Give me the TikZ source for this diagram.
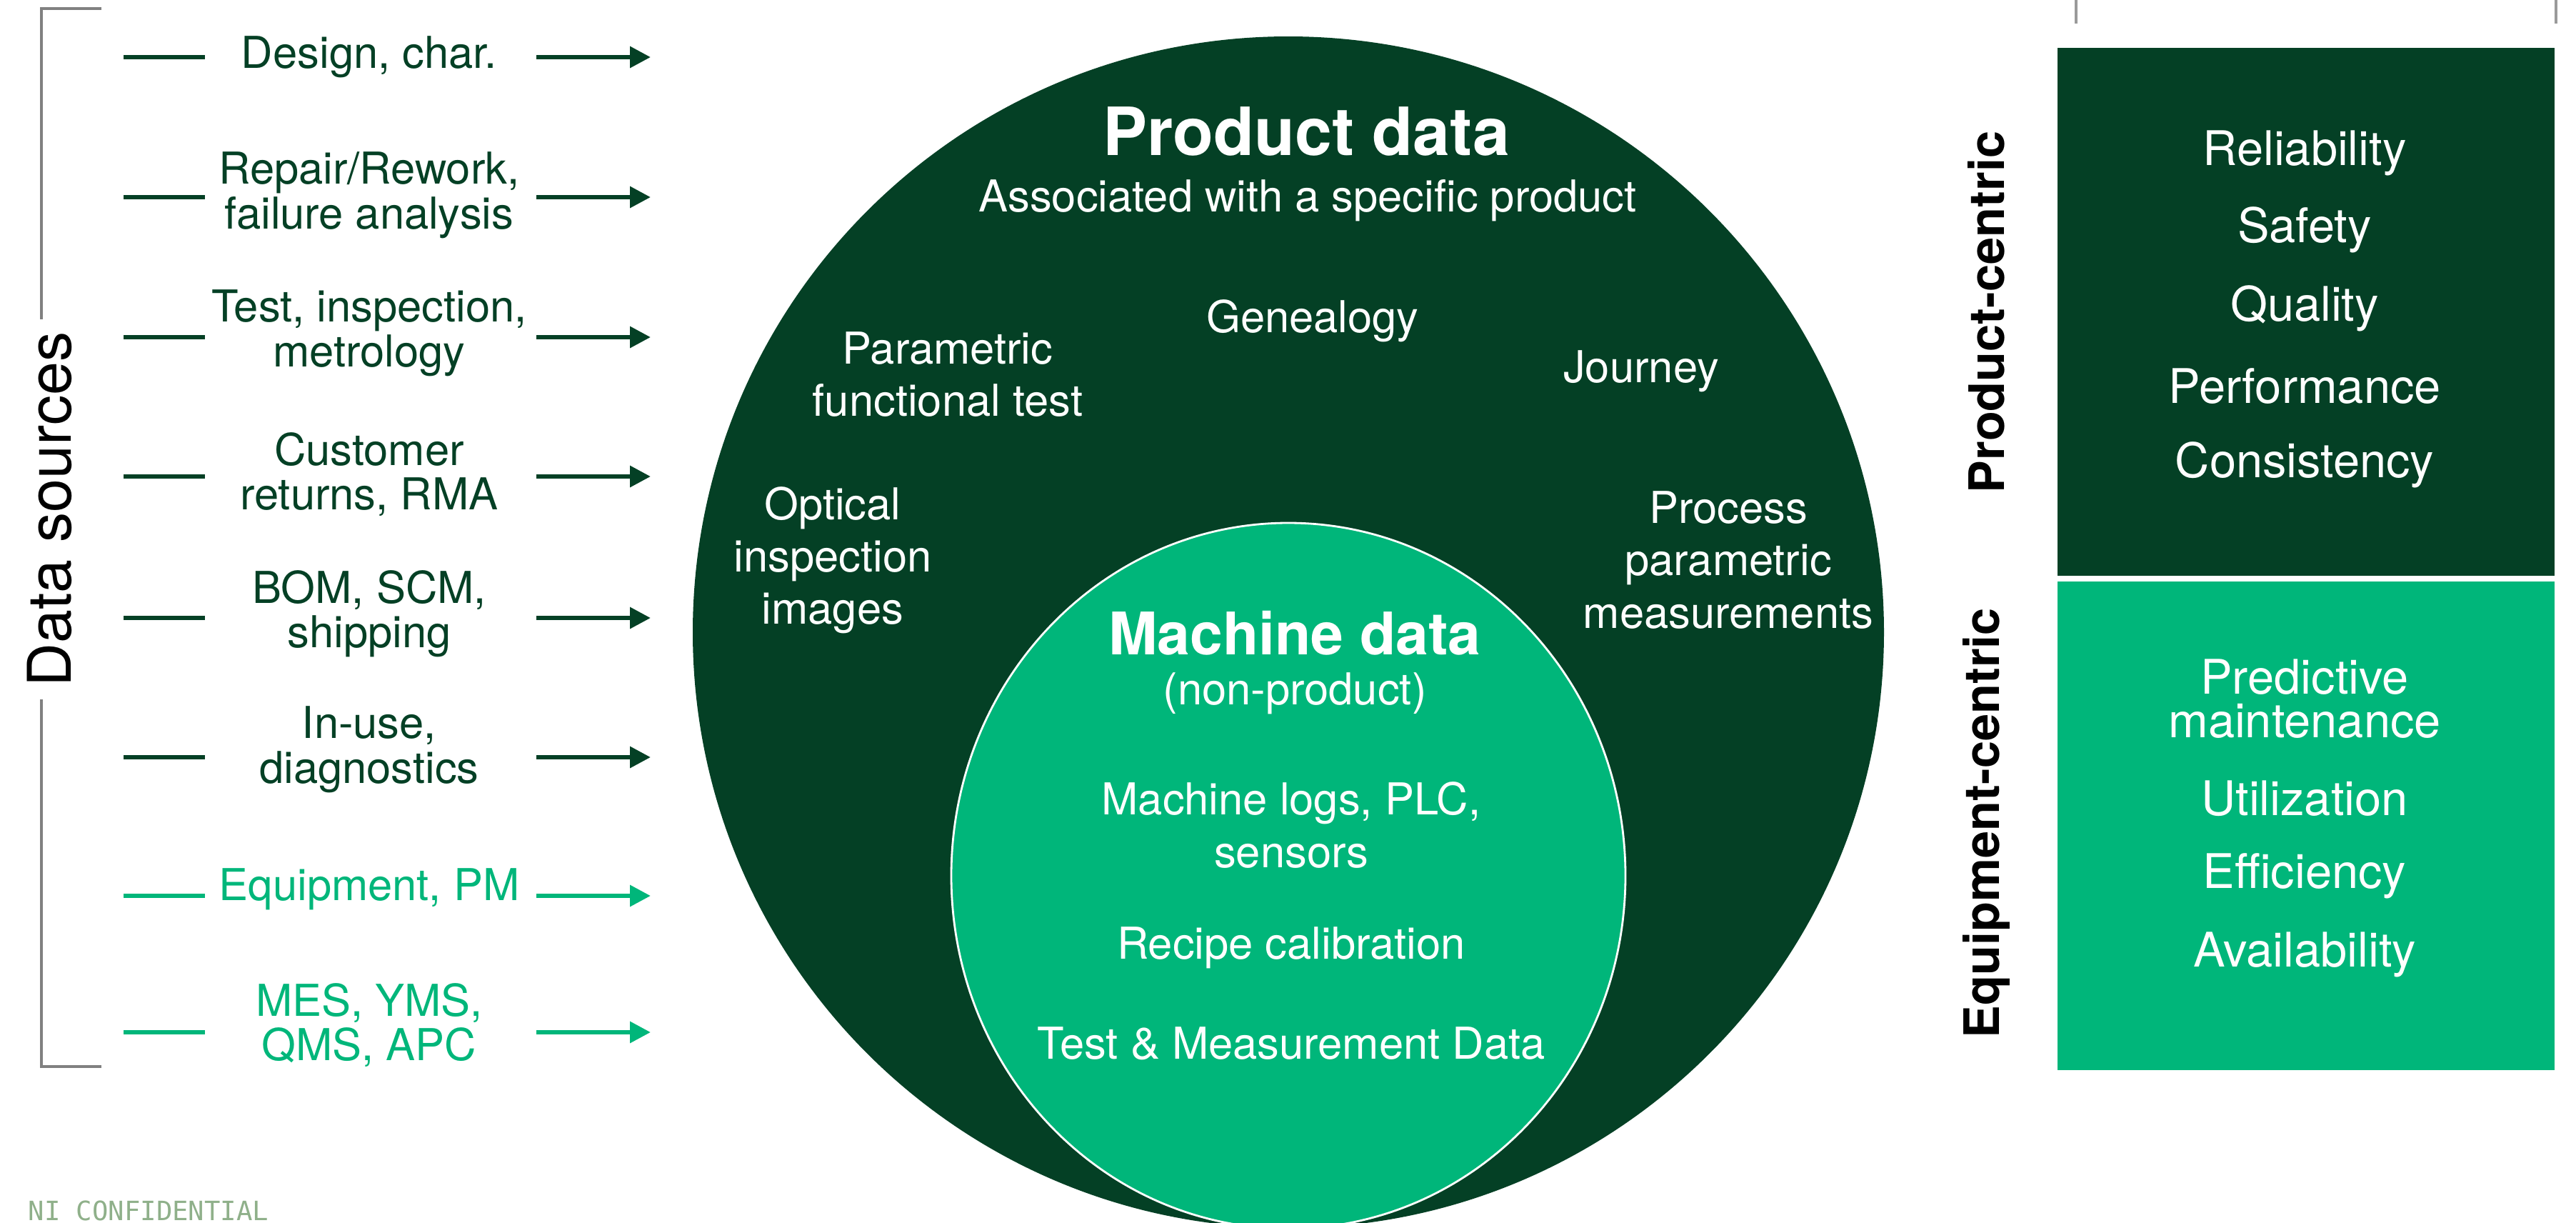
\documentclass[tikz,border=0pt]{standalone}
\usepackage{fontspec}
\setmainfont{TeX Gyre Heros}
\setmonofont{DejaVu Sans Mono}
\usetikzlibrary{arrows.meta}

\definecolor{ngreen}{RGB}{4,64,37}
\definecolor{lgreen}{RGB}{0,182,122}
\definecolor{sage}{RGB}{143,176,138}
\definecolor{brgray}{RGB}{128,128,128}

\tikzset{
	srcdark/.style={text=ngreen, align=center, inner sep=0pt, font=\fontsize{17.5}{17.8}\selectfont},
	srclight/.style={srcdark, text=lgreen},
	darkline/.style={draw=ngreen, line width=1.8pt},
	lightline/.style={draw=lgreen, line width=1.8pt},
	darkarrow/.style={darkline, -{Triangle[length=0.29cm,width=0.29cm]}},
	lightarrow/.style={lightline, -{Triangle[length=0.29cm,width=0.29cm]}},
	intext/.style={text=white, align=center, inner sep=0pt, font=\fontsize{17.5}{20.8}\selectfont},
	boxtext/.style={text=white, align=center, inner sep=0pt, font=\fontsize{19}{17.5}\selectfont},
	sidelabel/.style={rotate=90, inner sep=0pt, font=\fontsize{19.5}{20}\selectfont\bfseries}
}

\begin{document}
\begin{tikzpicture}[>=stealth]
			\useasboundingbox (0,0) rectangle (36.07,-17.11);

			% Скобка слева
			\draw[brgray, line width=1.3pt] (1.42,-0.12) -- (0.58,-0.12) -- (0.58,-14.93) -- (1.42,-14.93);
			\node[rotate=90, fill=white, inner sep=0.18cm, font=\fontsize{24}{24}\selectfont] (srcs) at (0.69,-7.13) {Data sources};

			% Источники данных
			\node[srcdark] (s1) at (5.17,-0.80) {Design, char.};
			\coordinate (s1a) at (1.73,-0.80); \coordinate (s1b) at (2.87,-0.80);
			\coordinate (s1c) at (7.51,-0.80); \coordinate (s1d) at (9.11,-0.80);
			\draw[darkline] (s1a) -- (s1b);
			\draw[darkarrow] (s1c) -- (s1d);

			\node[srcdark] (s2) at (5.17,-2.73) {Repair/Rework,\\failure analysis};
			\coordinate (s2a) at (1.73,-2.76); \coordinate (s2b) at (2.87,-2.76);
			\coordinate (s2c) at (7.51,-2.76); \coordinate (s2d) at (9.11,-2.76);
			\draw[darkline] (s2a) -- (s2b);
			\draw[darkarrow] (s2c) -- (s2d);

			\node[srcdark] (s3) at (5.17,-4.66) {Test, inspection,\\metrology};
			\coordinate (s3a) at (1.73,-4.72); \coordinate (s3b) at (2.87,-4.72);
			\coordinate (s3c) at (7.51,-4.72); \coordinate (s3d) at (9.11,-4.72);
			\draw[darkline] (s3a) -- (s3b);
			\draw[darkarrow] (s3c) -- (s3d);

			\node[srcdark] (s4) at (5.17,-6.64) {Customer\\returns, RMA};
			\coordinate (s4a) at (1.73,-6.67); \coordinate (s4b) at (2.87,-6.67);
			\coordinate (s4c) at (7.51,-6.67); \coordinate (s4d) at (9.11,-6.67);
			\draw[darkline] (s4a) -- (s4b);
			\draw[darkarrow] (s4c) -- (s4d);

			\node[srcdark] (s5) at (5.17,-8.59) {BOM, SCM,\\shipping};
			\coordinate (s5a) at (1.73,-8.65); \coordinate (s5b) at (2.87,-8.65);
			\coordinate (s5c) at (7.51,-8.65); \coordinate (s5d) at (9.11,-8.65);
			\draw[darkline] (s5a) -- (s5b);
			\draw[darkarrow] (s5c) -- (s5d);

			\node[srcdark] (s6) at (5.17,-10.49) {In-use,\\diagnostics};
			\coordinate (s6a) at (1.73,-10.60); \coordinate (s6b) at (2.87,-10.60);
			\coordinate (s6c) at (7.51,-10.60); \coordinate (s6d) at (9.11,-10.60);
			\draw[darkline] (s6a) -- (s6b);
			\draw[darkarrow] (s6c) -- (s6d);

			\node[srclight] (s7) at (5.17,-12.45) {Equipment, PM};
			\coordinate (s7a) at (1.73,-12.54); \coordinate (s7b) at (2.87,-12.54);
			\coordinate (s7c) at (7.51,-12.54); \coordinate (s7d) at (9.11,-12.54);
			\draw[lightline] (s7a) -- (s7b);
			\draw[lightarrow] (s7c) -- (s7d);

			\node[srclight] (s8) at (5.17,-14.35) {MES, YMS,\\QMS, APC};
			\coordinate (s8a) at (1.73,-14.45); \coordinate (s8b) at (2.87,-14.45);
			\coordinate (s8c) at (7.51,-14.45); \coordinate (s8d) at (9.11,-14.45);
			\draw[lightline] (s8a) -- (s8b);
			\draw[lightarrow] (s8c) -- (s8d);

			% Круги
			\fill[ngreen] (18.04,-8.85) circle (8.34);
			\draw[white, fill=lgreen, line width=0.8pt] (18.04,-12.26) ellipse (4.72 and 4.94);

			% Данные о продукте
			\node[intext, font=\fontsize{26.5}{28}\selectfont\bfseries] (pd) at (18.29,-1.84) {Product data};
			\node[intext] (pdsub) at (18.31,-2.81) {Associated with a specific product};
			\node[intext] (gen) at (18.38,-4.49) {Genealogy};
			\node[intext] (pft) at (13.27,-5.24) {Parametric\\functional test};
			\node[intext] (jrn) at (22.98,-5.20) {Journey};
			\node[intext] (opt) at (11.66,-7.84) {Optical\\inspection\\images};
			\node[intext] (ppm) at (24.20,-7.84) {Process\\parametric\\measurements};

			% Данные оборудования
			\node[intext, font=\fontsize{23.4}{25}\selectfont\bfseries] (md) at (18.13,-8.86) {Machine data};
			\node[intext] (mdsub) at (18.13,-9.71) {(non-product)};
			\node[intext] (logs) at (18.08,-11.55) {Machine logs, PLC,\\sensors};
			\node[intext] (rcp) at (18.08,-13.27) {Recipe calibration};
			\node[intext] (tmd) at (18.08,-14.61) {Test \& Measurement Data};

			% Справа
			\draw[brgray!80, line width=0.9pt] (29.07,0) -- (29.07,-0.33);
			\draw[brgray!80, line width=0.9pt] (35.79,0) -- (35.79,-0.33);
			\fill[ngreen] (28.81,-0.67) rectangle (35.77,-8.06);
			\fill[lgreen] (28.81,-8.14) rectangle (35.77,-14.98);
			\node[sidelabel] (pc) at (27.81,-4.37) {Product-centric};
			\node[sidelabel] (ec) at (27.81,-11.52) {Equipment-centric};

			\node[boxtext] (rel) at (32.27,-2.14) {Reliability};
			\node[boxtext] (saf) at (32.27,-3.22) {Safety};
			\node[boxtext] (qua) at (32.27,-4.32) {Quality};
			\node[boxtext] (prf) at (32.27,-5.41) {Performance};
			\node[boxtext] (con) at (32.27,-6.51) {Consistency};

			\node[boxtext] (pm) at (32.27,-9.78) {Predictive\\maintenance};
			\node[boxtext] (utl) at (32.27,-11.18) {Utilization};
			\node[boxtext] (eff) at (32.27,-12.26) {Efficiency};
			\node[boxtext] (avl) at (32.27,-13.36) {Availability};

			% Гриф
			\node[anchor=west, inner sep=0pt, text=sage, font=\ttfamily\fontsize{10.6}{11}\selectfont] (conf) at (0.39,-16.95) {NI CONFIDENTIAL};
		\end{tikzpicture}
\end{document}
